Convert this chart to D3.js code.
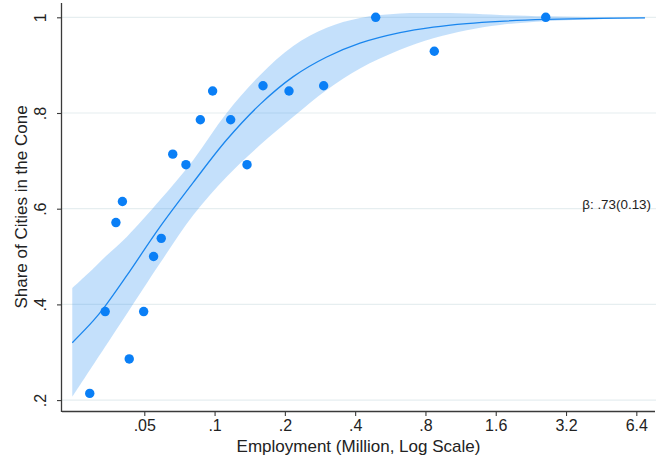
<!DOCTYPE html>
<html>
<head>
<meta charset="utf-8">
<script src="https://cdn.jsdelivr.net/npm/d3@7"></script>
<style>
  html, body { margin: 0; padding: 0; background: #fff; }
  svg { display: block; }
  text { font-family: "Liberation Sans", Arial, sans-serif; fill: #222; }
</style>
</head>
<body>
<div id="chart"></div>
<script>
// Scatter: employment (million) vs share of cities in the cone
const cityEmp   = [0.0292, 0.0340, 0.0378, 0.0403, 0.0431, 0.0497, 0.0548, 0.0591, 0.0662, 0.0754,
                   0.0869, 0.0981, 0.1172, 0.1377, 0.1612, 0.2083, 0.2932, 0.4898, 0.873, 2.62];
const cityShare = [0.214, 0.385, 0.571, 0.615, 0.286, 0.385, 0.500, 0.538, 0.714, 0.692,
                   0.786, 0.846, 0.786, 0.692, 0.857, 0.846, 0.857, 1.000, 0.929, 1.000];

// Fitted curve and confidence band
const fitEmp   = [0.02458, 0.03025, 0.03394, 0.04204, 0.05837, 0.08107, 0.1127, 0.1565, 0.2173,
                  0.3021, 0.4195, 0.6225, 0.8644, 1.2015, 1.668, 2.626, 4.473, 6.97];
const fitShare = [0.320, 0.366, 0.396, 0.460, 0.562, 0.655, 0.744, 0.818, 0.876,
                  0.917, 0.946, 0.968, 0.9795, 0.987, 0.9917, 0.9955, 0.9979, 0.9989];
const fitUpper = [0.434, 0.475, 0.499, 0.541, 0.618, 0.702, 0.800, 0.879, 0.940,
                  0.978, 0.9985, 1.008, 1.009, 1.008, 1.005, 1.002, 1.0003, 0.9995];
const fitLower = [0.207, 0.274, 0.311, 0.380, 0.486, 0.587, 0.667, 0.733, 0.792,
                  0.848, 0.893, 0.932, 0.956, 0.973, 0.984, 0.992, 0.996, 0.998];

// Axis ticks
const xTickValues = [0.05, 0.1, 0.2, 0.4, 0.8, 1.6, 3.2, 6.4];
const xTickLabels = [".05", ".1", ".2", ".4", ".8", "1.6", "3.2", "6.4"];
const yTickValues = [0.2, 0.4, 0.6, 0.8, 1];
const yTickLabels = [".2", ".4", ".6", ".8", "1"];

const xTitle = "Employment (Million, Log Scale)";
const yTitle = "Share of Cities in the Cone";
const note = "β: .73(0.13)";

const W = 664, H = 458;
const pL = 62, pR = 655, pT = 3, pB = 411;

const svg = d3.select("#chart").append("svg").attr("width", W).attr("height", H);

const x = d3.scaleLog().domain([0.02221, 7.695]).range([pL, pR]);
const y = d3.scaleLinear().domain([0.1772, 1.0299]).range([pB, pT]);

// gridlines
svg.append("g").selectAll("line").data(yTickValues).join("line")
  .attr("x1", pL).attr("x2", pR + 1)
  .attr("y1", d => y(d)).attr("y2", d => y(d))
  .attr("stroke", "#e6eef0").attr("stroke-width", 1.2);

const fit = fitEmp.map((e, i) => ({ e, m: fitShare[i], lo: fitLower[i], hi: fitUpper[i] }));
const smooth = d3.curveCatmullRom.alpha(0.5);

// band
svg.append("path").datum(fit)
  .attr("d", d3.area().x(d => x(d.e)).y0(d => y(d.lo)).y1(d => y(d.hi)).curve(smooth))
  .attr("fill", "#2b8ff0").attr("fill-opacity", 0.28);

// fitted line
svg.append("path").datum(fit)
  .attr("d", d3.line().x(d => x(d.e)).y(d => y(d.m)).curve(smooth))
  .attr("fill", "none").attr("stroke", "#1a86ee").attr("stroke-width", 1.3);

// points
svg.append("g").selectAll("circle").data(cityEmp.map((e, i) => [e, cityShare[i]])).join("circle")
  .attr("cx", d => x(d[0])).attr("cy", d => y(d[1])).attr("r", 4.7)
  .attr("fill", "#0a7ff6");

// axes
const xAxis = d3.axisBottom(x).tickValues(xTickValues)
  .tickFormat((d, i) => xTickLabels[i]).tickSize(5).tickSizeOuter(0).tickPadding(4);
const gx = svg.append("g").attr("transform", `translate(0,${pB})`).call(xAxis);
gx.select(".domain").attr("stroke", "#3a3a3a").attr("stroke-width", 1.3)
  .attr("d", `M${pL},0.5H${pR}`);
gx.selectAll(".tick line").attr("stroke", "#3a3a3a").attr("stroke-width", 1.1);
gx.selectAll(".tick text").attr("font-size", 16).attr("fill", "#222")
  .attr("font-family", "Liberation Sans, Arial, sans-serif");

const yAxis = d3.axisLeft(y).tickValues(yTickValues)
  .tickFormat((d, i) => yTickLabels[i]).tickSize(5).tickSizeOuter(0);
const gy = svg.append("g").attr("transform", `translate(${pL},0)`).call(yAxis);
gy.select(".domain").attr("stroke", "#3a3a3a").attr("stroke-width", 1.3)
  .attr("d", `M-0.5,${pT}V${pB + 1}`);
gy.selectAll(".tick line").attr("stroke", "#3a3a3a").attr("stroke-width", 1.1);
gy.selectAll(".tick text")
  .attr("font-size", 16).attr("fill", "#222")
  .attr("font-family", "Liberation Sans, Arial, sans-serif")
  .attr("x", null).attr("dy", null)
  .attr("text-anchor", "middle")
  .attr("transform", "translate(-16,0) rotate(-90)")
  .attr("y", 0);

// titles
svg.append("text").attr("x", (pL + pR) / 2).attr("y", 452)
  .attr("text-anchor", "middle").attr("font-size", 17).text(xTitle);
svg.append("text")
  .attr("transform", `translate(27,${(pT + pB) / 2}) rotate(-90)`)
  .attr("text-anchor", "middle").attr("font-size", 17).text(yTitle);

// annotation
svg.append("text").attr("x", 651).attr("y", y(0.6))
  .attr("text-anchor", "end").attr("font-size", 13.4).attr("fill", "#333").text(note);
</script>
</body>
</html>
